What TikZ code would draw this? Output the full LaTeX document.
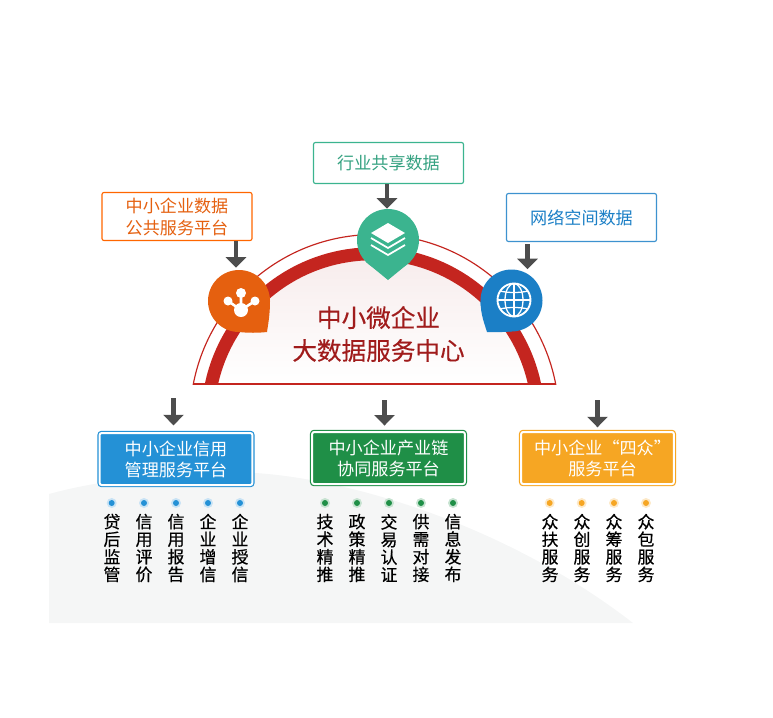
\documentclass[tikz,border=0pt]{standalone}
\usepackage{fontspec}
\setmainfont{Noto Sans CJK SC}
\newfontfamily\itemfont[FakeBold=0.45]{Noto Sans CJK SC}
\newfontfamily\titlefont[FakeBold=0.3]{Noto Sans CJK SC}
\usepackage{xcolor}
\usetikzlibrary{arrows.meta}
\definecolor{archred}{HTML}{C4251F}
\definecolor{titlered}{HTML}{A01C1C}
\definecolor{pinorange}{HTML}{E5600F}
\definecolor{pingreen}{HTML}{3BB48F}
\definecolor{pinblue}{HTML}{1B7FC6}
\definecolor{creditblue}{HTML}{2491D6}
\definecolor{chaingreen}{HTML}{1F8F47}
\definecolor{fouryellow}{HTML}{F6A623}
\definecolor{arrowgray}{HTML}{4D4D4D}
\definecolor{groundgray}{HTML}{F5F6F6}
\tikzset{>={Triangle[width=17pt,length=9pt]}}
\tikzset{
  downarrow/.style={->,arrowgray,line width=4.2pt},
  sourcebox/.style={draw,fill=white,line width=1pt,rounded corners=1.7pt,minimum width=4.5cm,align=center,text depth=0.5pt,font=\fontsize{14.6}{18}\selectfont},
  servicebox/.style={draw=#1,fill=#1,double=white,double distance=1.7pt,line width=1pt,rounded corners=1.7pt,inner xsep=0pt,minimum width=4.58cm,minimum height=1.56cm,align=center,text=white,font=\fontsize{14.6}{18}\selectfont},
  itemtext/.style={align=center,inner sep=0pt,font=\itemfont\fontsize{14.4}{15}\selectfont},
  pinnode/.style={circle,inner sep=0pt,minimum size=1.86cm},
}
\begin{document}
\begin{tikzpicture}[x=0.03cm,y=-0.03cm]
\useasboundingbox (0,0) rectangle (773,718);

  % ground behind the lower part
  \fill[groundgray] (49,623) -- (49,494) .. controls (110,477) and (200,470) .. (255,473) .. controls (340,478) and (500,520) .. (633,623) -- cycle;

  % the arch
  \shade[top color=titlered!9!white,bottom color=white] (218,384) arc[start angle=192.7,end angle=347.3,radius=159] -- cycle;
  \begin{scope}
    \clip (150,200) rectangle (600,384);
    \draw[archred,line width=11.1pt] (373,419) circle (165.25);
    \draw[archred,line width=1pt] (374.5,419) circle (184.5);
  \end{scope}
  \draw[archred,line width=1.6pt] (194,384) -- (556,384);

  \node[align=center,inner sep=0pt,text=titlered,font=\titlefont\fontsize{21}{28}\selectfont] (title) at (378.5,334) {中小微企业\\大数据服务中心};

  % the three pins
  \node[pinnode,fill=pinorange] (orangepin) at (239,301) {};
  \fill[pinorange] (270,301) .. controls (270,315) and (268,325) .. (267,332) .. controls (258,333) and (248,333) .. (239,332) -- (239,301) -- cycle;
  \node[pinnode,fill=pingreen] (greenpin) at (388,240) {};
  \fill[pingreen] (366,262) -- (388,280) -- (410,262) -- cycle;
  \node[pinnode,fill=pinblue] (bluepin) at (511.5,300.5) {};
  \fill[pinblue] (480.5,300.5) .. controls (480.5,315) and (485,325) .. (487,332) .. controls (495,332.5) and (503,332) .. (511.5,331.5) -- (511.5,300.5) -- cycle;

  % hub icon
  \draw[white,line width=2.2pt] (241,293) -- (241,310) (228,301) -- (241,310) -- (255,301);
  \fill[white] (241,310) circle (7);
  \fill[white] (241,293) circle (5);
  \fill[white] (228,301) circle (4.5);
  \fill[white] (255,301) circle (4.5);

  % layers icon
  \fill[white] (388,223) -- (405,233) -- (388,243) -- (371,233) -- cycle;
  \draw[white,line width=1.5pt] (371,238) -- (388,248) -- (405,238);
  \draw[white,line width=1.5pt] (371,245) -- (388,255) -- (405,245);

  % globe icon
  \begin{scope}[white,line width=1.1pt]
    \draw[line width=1.6pt] (514,300) circle (16.5);
    \draw (514,283.5) -- (514,316.5);
    \draw (514,300) ellipse (9 and 16.5);
    \draw (497.5,300) -- (530.5,300);
    \draw (500,291) .. controls (508,293) and (520,293) .. (528,291);
    \draw (500,309) .. controls (508,307) and (520,307) .. (528,309);
  \end{scope}

  % sources
  \node[sourcebox,draw=orange!80!red,text=pinorange,minimum height=1.44cm] (orangebox) at (177,216.5) {中小企业数据\\公共服务平台};
  \node[sourcebox,draw=pingreen,text=pingreen!90!black,minimum height=1.23cm] (greenbox) at (388.5,163) {行业共享数据};
  \node[sourcebox,draw=pinblue!85!white,text=pinblue,minimum height=1.44cm] (bluebox) at (581.5,217.5) {网络空间数据};

  \coordinate (orangefrom) at (236,241);
  \coordinate (greenfrom) at (387,184);
  \coordinate (bluefrom) at (527.5,244);
  \draw[downarrow,shorten >=1.7pt] (orangefrom) -- (orangefrom |- orangepin.north);
  \draw[downarrow] (greenfrom) -- (greenfrom |- greenpin.north);
  \draw[downarrow] (bluefrom) -- (bluefrom |- bluepin.north);

  % services
  \node[servicebox=creditblue] (creditbox) at (176,459) {中小企业信用\\管理服务平台};
  \node[servicebox=chaingreen] (chainbox) at (388.5,458) {中小企业产业链\\协同服务平台};
  \node[servicebox=fouryellow] (fourbox) at (597.5,458) {\hspace*{0.3cm}中小企业\makebox[1em][r]{“}四众\makebox[1em][l]{”}\\\hspace*{0.3cm}服务平台};

  \coordinate (creditfrom) at (173.5,398);
  \coordinate (chainfrom) at (384.5,400);
  \coordinate (fourfrom) at (597.5,400);
  \draw[downarrow,shorten >=6pt] (creditfrom) -- (creditfrom |- creditbox.north);
  \draw[downarrow,shorten >=5pt] (chainfrom) -- (chainfrom |- chainbox.north);
  \draw[downarrow,shorten >=3.5pt] (fourfrom) -- (fourfrom |- fourbox.north);

  % service items
  \foreach \x in {111.7,144,176,208,240}{
    \fill[creditblue!25!white] (\x,503) circle (5);
    \fill[creditblue] (\x,503) circle (3);
  }
  \foreach \x/\y in {112/{贷\\后\\监\\管},144/{信\\用\\评\\价},176/{信\\用\\报\\告},208/{企\\业\\增\\信},240/{企\\业\\授\\信}}
    \node[itemtext,name=credit\x] at (\x,548) {\y};

  \foreach \x in {325,357,389,421,453}{
    \fill[chaingreen!25!white] (\x,503) circle (5);
    \fill[chaingreen] (\x,503) circle (3);
  }
  \foreach \x/\y in {325/{技\\术\\精\\推},357/{政\\策\\精\\推},389/{交\\易\\认\\证},421/{供\\需\\对\\接},453/{信\\息\\发\\布}}
    \node[itemtext,name=chain\x] at (\x,548) {\y};

  \foreach \x in {549.7,581.7,614,646}{
    \fill[fouryellow!25!white] (\x,503) circle (5);
    \fill[fouryellow] (\x,503) circle (3);
  }
  \foreach \x/\y in {550/{众\\扶\\服\\务},582/{众\\创\\服\\务},614/{众\\筹\\服\\务},646/{众\\包\\服\\务}}
    \node[itemtext,name=four\x] at (\x,548) {\y};

\end{tikzpicture}
\end{document}
